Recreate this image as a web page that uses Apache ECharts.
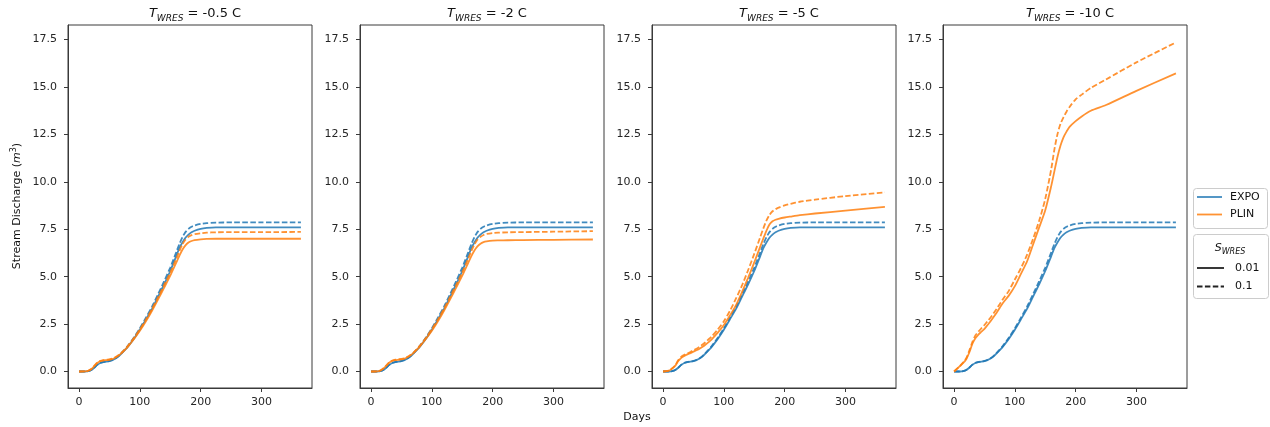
<!DOCTYPE html>
<html>
<head>
<meta charset="utf-8">
<script src="https://cdn.jsdelivr.net/npm/echarts@6/dist/echarts.min.js"></script>
<style>html,body{margin:0;padding:0;background:#fff;}#c{width:1270px;height:427px;}</style>
</head>
<body>
<div id="c"></div>
<script>
// ---- data ----
const days = [0,10,15,20,25,30,35,40,45,50,55,60,65,70,75,80,90,100,110,120,130,140,150,160,165,170,175,180,185,190,200,210,225,250,300,365];
const panelTemps = ['-0.5', '-2', '-5', '-10'];
const xTicks = [0, 100, 200, 300];
const yTicks = [0, 2.5, 5, 7.5, 10, 12.5, 15, 17.5];

// EXPO (same in every panel)
const expoS001 = [0,0.0,0.02,0.08,0.2,0.35,0.45,0.5,0.52,0.55,0.6,0.68,0.8,0.95,1.12,1.3,1.72,2.2,2.75,3.3,3.95,4.6,5.3,6.1,6.5,6.8,7.05,7.22,7.34,7.42,7.52,7.57,7.6,7.6,7.6,7.6];
const expoS01  = [0,0.0,0.02,0.08,0.2,0.36,0.46,0.51,0.53,0.56,0.62,0.7,0.82,0.98,1.15,1.34,1.78,2.28,2.84,3.42,4.08,4.76,5.48,6.3,6.72,7.08,7.35,7.52,7.63,7.7,7.78,7.82,7.85,7.86,7.86,7.86];

// PLIN, T = -0.5 C
const plinA001 = [0,0.01,0.04,0.12,0.28,0.45,0.54,0.58,0.6,0.62,0.66,0.74,0.84,0.97,1.13,1.3,1.7,2.15,2.65,3.2,3.8,4.42,5.05,5.75,6.1,6.42,6.65,6.8,6.88,6.93,6.97,6.99,7.0,7.0,7.0,7.0];
const plinA01  = [0,0.01,0.04,0.13,0.3,0.47,0.56,0.6,0.62,0.64,0.68,0.76,0.87,1.0,1.16,1.34,1.76,2.22,2.74,3.3,3.92,4.56,5.22,5.95,6.34,6.7,6.95,7.1,7.19,7.24,7.29,7.32,7.34,7.35,7.35,7.36];
// PLIN, T = -2 C
const plinB001 = [0,0.01,0.05,0.15,0.3,0.47,0.56,0.6,0.62,0.64,0.68,0.75,0.85,0.98,1.14,1.31,1.71,2.15,2.65,3.2,3.8,4.42,5.05,5.74,6.08,6.38,6.6,6.74,6.82,6.86,6.9,6.91,6.92,6.93,6.94,6.96];
const plinB01  = [0,0.01,0.05,0.16,0.32,0.49,0.58,0.62,0.64,0.66,0.7,0.78,0.88,1.01,1.17,1.35,1.77,2.23,2.75,3.31,3.93,4.57,5.23,5.96,6.35,6.7,6.95,7.1,7.2,7.25,7.3,7.32,7.34,7.35,7.37,7.4];
// PLIN, T = -5 C
const plinC001 = [0,0.05,0.15,0.3,0.55,0.72,0.82,0.9,0.97,1.05,1.12,1.2,1.3,1.42,1.55,1.7,2.05,2.45,2.95,3.5,4.2,4.95,5.75,6.6,7.02,7.42,7.75,7.92,8.0,8.05,8.12,8.17,8.24,8.33,8.48,8.68];
const plinC01  = [0,0.06,0.17,0.33,0.6,0.78,0.88,0.95,1.03,1.12,1.2,1.3,1.42,1.55,1.7,1.85,2.22,2.65,3.2,3.85,4.55,5.35,6.2,7.1,7.55,7.95,8.25,8.45,8.56,8.64,8.76,8.84,8.95,9.06,9.25,9.44];
// PLIN, T = -10 C
const plinD001 = [0,0.3,0.45,0.65,1.0,1.45,1.75,1.95,2.1,2.25,2.45,2.65,2.87,3.1,3.35,3.6,4.0,4.5,5.15,5.8,6.7,7.6,8.5,9.8,10.55,11.3,11.9,12.35,12.65,12.9,13.2,13.45,13.75,14.05,14.8,15.72];
const plinD01  = [0,0.3,0.48,0.7,1.1,1.55,1.9,2.1,2.28,2.45,2.65,2.85,3.07,3.3,3.55,3.8,4.25,4.85,5.45,6.15,7.0,7.95,9.1,10.7,11.7,12.5,13.05,13.4,13.7,13.95,14.35,14.6,14.95,15.4,16.3,17.35];

const plinSolid = [plinA001, plinB001, plinC001, plinD001];
const plinDashed = [plinA01, plinB01, plinC01, plinD01];

// ---- styling ----
const BLUE = 'rgba(31,119,180,0.85)';
const ORANGE = 'rgba(255,127,14,0.85)';
const DASH = [5.5, 2.4];
const FONT = 'DejaVu Sans';
const gridLefts = [68, 360, 652, 943];
const GW = 244, GT = 25, GH = 363;

const pairs = arr => days.map((d, i) => [d, arr[i]]);

const grids = [], xAxes = [], yAxes = [], series = [], titles = [];
gridLefts.forEach((gl, i) => {
  grids.push({left: gl, top: GT, width: GW, height: GH, show: true, borderColor: '#3a3a3a', borderWidth: 1, backgroundColor: 'transparent'});
  xAxes.push({
    type: 'value', gridIndex: i, min: -18.25, max: 383.25, position: 'bottom',
    axisLine: {show: true, onZero: false, lineStyle: {color: '#3a3a3a', width: 1}}, splitLine: {show: false},
    axisTick: {show: true, inside: false, length: 4, lineStyle: {color: '#3a3a3a'}, customValues: xTicks},
    axisLabel: {customValues: xTicks, margin: 9, fontFamily: FONT, fontSize: 11, color: '#262626'}
  });
  yAxes.push({
    type: 'value', gridIndex: i, min: -0.87, max: 18.27, position: 'left',
    axisLine: {show: true, onZero: false, lineStyle: {color: '#3a3a3a', width: 1}}, splitLine: {show: false},
    axisTick: {show: true, inside: false, length: 4, lineStyle: {color: '#3a3a3a'}, customValues: yTicks},
    axisLabel: {customValues: yTicks, margin: 11, fontFamily: FONT, fontSize: 11, color: '#262626', formatter: v => v.toFixed(1)}
  });
  const mk = (name, arr, color, dashed) => ({
    type: 'line', name, xAxisIndex: i, yAxisIndex: i, data: pairs(arr),
    showSymbol: false, symbol: 'none', smooth: 0.25,
    lineStyle: {color, width: 1.8, type: dashed ? DASH : 'solid'},
    itemStyle: {color}, silent: true
  });
  series.push(mk('EXPO', expoS001, BLUE, false));
  series.push(mk('EXPO', expoS01, BLUE, true));
  series.push(mk('PLIN', plinSolid[i], ORANGE, false));
  series.push(mk('PLIN', plinDashed[i], ORANGE, true));
  titles.push({
    text: '{i|T}{s|WRES}{n| = ' + panelTemps[i] + ' C}',
    left: gl + GW / 2, top: 0, textAlign: 'center',
    textStyle: {
      fontWeight: 'normal',
      rich: {
        i: {fontFamily: FONT, fontSize: 13, fontStyle: 'italic', fontWeight: 'normal', color: '#111', lineHeight: 18, verticalAlign: 'middle'},
        s: {fontFamily: FONT, fontSize: 9, fontStyle: 'italic', fontWeight: 'normal', color: '#111', lineHeight: 9, verticalAlign: 'bottom'},
        n: {fontFamily: FONT, fontSize: 13, fontWeight: 'normal', color: '#111', lineHeight: 18, verticalAlign: 'middle'}
      }
    }
  });
});

const graphics = [
  // y-axis label
  {type: 'text', x: 17, y: 206, rotation: Math.PI / 2, silent: true,
   style: {text: '{a|Stream Discharge (}{m|m}{p|3}{a|)}', align: 'center', verticalAlign: 'middle',
     rich: {
       a: {fontFamily: FONT, fontSize: 11, fill: '#111', lineHeight: 14, verticalAlign: 'middle'},
       m: {fontFamily: FONT, fontSize: 11, fontStyle: 'italic', fill: '#111', lineHeight: 14, verticalAlign: 'middle'},
       p: {fontFamily: FONT, fontSize: 8, fill: '#111', lineHeight: 8, verticalAlign: 'top'}
     }}},
  // x-axis label
  {type: 'text', x: 637, y: 417, silent: true,
   style: {text: 'Days', align: 'center', verticalAlign: 'middle', fontFamily: FONT, fontSize: 11, fill: '#111'}},
  // legend 1
  {type: 'rect', shape: {x: 1193.5, y: 188.5, width: 74, height: 40, r: 3}, style: {fill: 'rgba(255,255,255,0.8)', stroke: '#cccccc', lineWidth: 1}, silent: true},
  {type: 'line', shape: {x1: 1197, y1: 197, x2: 1222, y2: 197}, style: {stroke: BLUE, lineWidth: 1.8}, silent: true},
  {type: 'text', x: 1230, y: 197, style: {text: 'EXPO', verticalAlign: 'middle', fontFamily: FONT, fontSize: 11, fill: '#111'}, silent: true},
  {type: 'line', shape: {x1: 1197, y1: 214.5, x2: 1222, y2: 214.5}, style: {stroke: ORANGE, lineWidth: 1.8}, silent: true},
  {type: 'text', x: 1230, y: 214.5, style: {text: 'PLIN', verticalAlign: 'middle', fontFamily: FONT, fontSize: 11, fill: '#111'}, silent: true},
  // legend 2
  {type: 'rect', shape: {x: 1193.5, y: 234.5, width: 75, height: 64, r: 3}, style: {fill: 'rgba(255,255,255,0.8)', stroke: '#cccccc', lineWidth: 1}, silent: true},
  {type: 'text', x: 1230, y: 248, silent: true,
   style: {text: '{i|S}{s|WRES}', align: 'center', verticalAlign: 'middle',
     rich: {
       i: {fontFamily: FONT, fontSize: 11, fontStyle: 'italic', fill: '#111', lineHeight: 15, verticalAlign: 'middle'},
       s: {fontFamily: FONT, fontSize: 8, fontStyle: 'italic', fill: '#111', lineHeight: 8, verticalAlign: 'bottom'}
     }}},
  {type: 'line', shape: {x1: 1197, y1: 268, x2: 1224, y2: 268}, style: {stroke: '#222', lineWidth: 1.8}, silent: true},
  {type: 'text', x: 1235, y: 268, style: {text: '0.01', verticalAlign: 'middle', fontFamily: FONT, fontSize: 11, fill: '#111'}, silent: true},
  {type: 'line', shape: {x1: 1197, y1: 286.5, x2: 1224, y2: 286.5}, style: {stroke: '#222', lineWidth: 1.8, lineDash: DASH}, silent: true},
  {type: 'text', x: 1235, y: 286.5, style: {text: '0.1', verticalAlign: 'middle', fontFamily: FONT, fontSize: 11, fill: '#111'}, silent: true}
];

const chart = echarts.init(document.getElementById('c'), null, {renderer: 'canvas'});
chart.setOption({
  animation: false,
  backgroundColor: '#ffffff',
  title: titles,
  grid: grids,
  xAxis: xAxes,
  yAxis: yAxes,
  series: series,
  graphic: graphics
});
</script>
</body>
</html>
